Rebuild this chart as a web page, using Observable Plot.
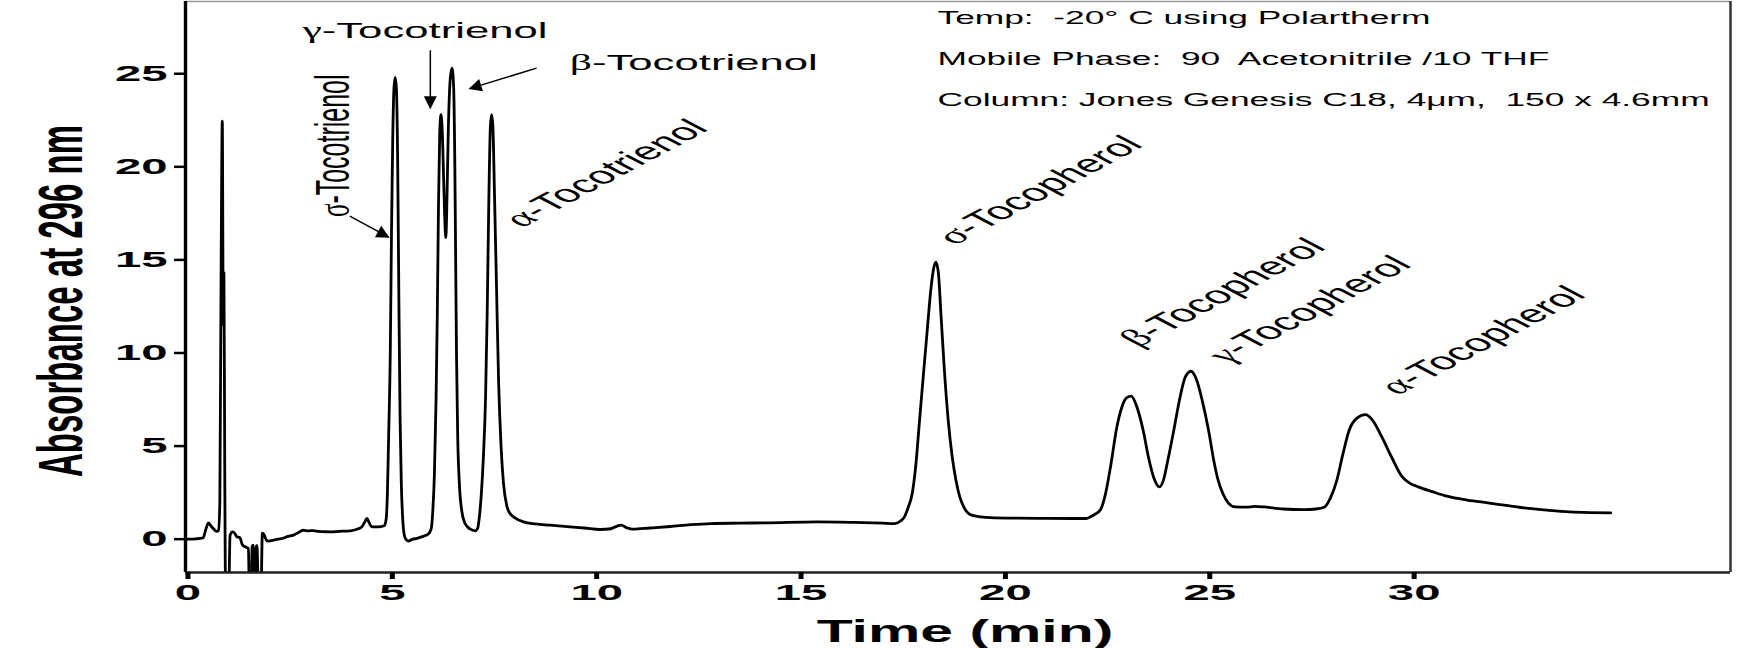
<!DOCTYPE html>
<html><head><meta charset="utf-8">
<script src="https://cdn.jsdelivr.net/npm/d3@7"></script>
<script src="https://cdn.jsdelivr.net/npm/@observablehq/plot@0.6"></script>
<style>
html,body{margin:0;padding:0;background:#fff;}
svg text{white-space:pre;}
</style></head><body><div id="chart"></div>
<script>
// ---- data ----
const time = [-0.04,0.2,0.37,0.44,0.5,0.56,0.62,0.7,0.75,0.78,0.81,0.84,0.865,0.88,0.9,0.92,1.0,1.03,1.09,1.15,1.2,1.27,1.33,1.4,1.48,1.5,1.55,1.57,1.6,1.62,1.65,1.67,1.69,1.72,1.79,1.82,1.86,1.92,1.97,2.1,2.2,2.33,2.45,2.58,2.7,2.82,2.95,3.06,3.2,3.35,3.48,3.7,3.97,4.15,4.25,4.32,4.38,4.43,4.5,4.65,4.8,4.85,4.88,4.91,4.95,4.98,5.01,5.04,5.07,5.1,5.13,5.16,5.19,5.22,5.26,5.3,5.35,5.39,5.5,5.6,5.75,5.88,5.95,5.99,6.03,6.07,6.1,6.13,6.16,6.19,6.22,6.26,6.29,6.31,6.33,6.37,6.42,6.46,6.5,6.53,6.55,6.57,6.6,6.64,6.7,6.78,6.9,7.03,7.09,7.13,7.18,7.23,7.28,7.32,7.36,7.4,7.43,7.46,7.5,7.55,7.6,7.66,7.72,7.8,7.88,8.0,8.21,8.5,8.86,9.35,9.7,10.08,10.35,10.5,10.6,10.75,10.88,11.3,11.8,12.3,12.8,13.5,14.2,15.4,16.3,17.0,17.29,17.45,17.53,17.62,17.72,17.8,17.9,18.0,18.09,18.18,18.24,18.3,18.36,18.42,18.5,18.6,18.7,18.79,18.88,18.98,19.17,19.4,19.63,20.3,21.0,21.98,22.08,22.16,22.33,22.45,22.58,22.72,22.85,22.97,23.08,23.2,23.37,23.5,23.63,23.77,23.87,23.97,24.12,24.27,24.4,24.54,24.67,24.82,24.97,25.1,25.2,25.32,25.45,25.62,25.9,26.1,26.32,26.8,27.31,27.6,27.81,27.95,28.11,28.25,28.41,28.6,28.81,28.98,29.21,29.45,29.71,29.9,30.1,30.45,30.8,31.3,31.8,32.3,32.8,33.3,33.8,34.3,34.81];
const absorbance = [0.0,0.02,0.07,0.55,0.87,0.72,0.57,0.42,0.45,2.0,14.0,22.45,11.5,14.3,4.0,-2.5,-2.5,0.2,0.39,0.3,0.12,0.09,-0.3,-0.41,-0.5,-2.5,-2.5,-0.4,-0.32,-2.5,-2.5,-0.35,-0.35,-2.5,-2.5,0.32,0.25,-0.05,-0.1,-0.05,0.0,0.05,0.15,0.22,0.35,0.48,0.45,0.46,0.42,0.4,0.39,0.42,0.45,0.55,0.65,0.9,1.11,0.9,0.66,0.66,0.72,1.1,2.5,5.5,10.0,16.5,21.5,24.2,24.8,24.2,20.5,13.0,6.5,3.0,0.9,0.15,-0.05,-0.1,0.0,0.04,0.15,0.27,0.55,1.5,3.5,7.5,12.0,18.0,21.8,22.8,22.0,19.0,16.8,16.2,17.5,22.0,24.8,25.3,24.3,20.0,15.0,10.0,5.5,3.0,1.5,0.84,0.55,0.45,0.6,1.2,2.5,4.5,7.5,12.0,18.0,22.2,22.8,22.2,18.5,13.5,8.5,5.0,3.0,1.8,1.38,1.15,0.93,0.82,0.75,0.66,0.6,0.52,0.56,0.7,0.75,0.6,0.54,0.6,0.68,0.78,0.84,0.86,0.88,0.93,0.9,0.86,0.84,1.0,1.2,1.7,2.45,3.8,6.4,9.0,11.3,13.5,14.5,14.88,14.3,12.2,9.3,6.4,4.4,3.17,2.3,1.73,1.29,1.2,1.16,1.13,1.12,1.11,1.2,1.3,1.6,2.45,4.0,5.95,7.1,7.6,7.68,7.2,5.85,4.4,3.3,2.81,3.2,4.2,5.85,7.6,8.7,9.02,8.6,7.4,5.85,4.2,3.2,2.45,1.95,1.73,1.72,1.76,1.73,1.62,1.59,1.62,1.73,2.2,3.17,4.5,5.85,6.5,6.69,6.4,5.49,4.4,3.34,3.0,2.81,2.55,2.31,2.1,1.95,1.8,1.65,1.55,1.47,1.43,1.41];

const xTicks = [0, 5, 10, 15, 20, 25, 30];
const yTicks = [0, 5, 10, 15, 20, 25];
const xDomain = [-0.06, 37.74];
const yDomain = [-1.79, 28.88];

const xTitle = "Time (min)";
const yTitle = "Absorbance at 296 nm";
const infoLines = ["Temp:  -20° C using Polartherm", "Mobile Phase:  90  Acetonitrile /10 THF", "Column: Jones Genesis C18, 4μm,  150 x 4.6mm"];

// peak labels (anchor in data units)
const flatNames = ["γ-Tocotrienol", "β-Tocotrienol"];
const flatTime = [2.80, 9.34];
const flatAbs = [27.34, 25.6];
const uprightNames = ["σ-Tocotrienol"];
const uprightTime = [3.57];
const uprightAbs = [17.3];
const slantNames = ["α-Tocotrienol", "σ-Tocopherol", "β-Tocopherol", "γ-Tocopherol", "α-Tocopherol"];
const slantTime = [7.92, 18.5, 23.0, 25.15, 29.35];
const slantAbs = [17.0, 16.06, 10.58, 9.7, 8.0];

// arrows (data units)
const arrowTime1 = [5.93, 8.53, 3.96];
const arrowAbs1 = [26.26, 25.3, 17.35];
const arrowTime2 = [5.93, 6.89, 4.91];
const arrowAbs2 = [23.15, 24.2, 16.22];

const trace = time.map((t, i) => ({t, a: absorbance[i]}));
const rows = (names, xs, ys) => names.map((n, i) => ({n, x: xs[i], y: ys[i]}));
const arrows = arrowTime1.map((t, i) => ({x1: t, y1: arrowAbs1[i], x2: arrowTime2[i], y2: arrowAbs2[i]}));

const font = "Liberation Sans, Arial, sans-serif";
const chart = Plot.plot({
  width: 1739, height: 648,
  marginLeft: 185, marginRight: 9, marginTop: 1, marginBottom: 76,
  style: {fontFamily: font, background: "#fff", color: "#000", overflow: "visible"},
  x: {domain: xDomain},
  y: {domain: yDomain},
  marks: [
    Plot.line(trace, {x: "t", y: "a", stroke: "#000", strokeWidth: 2.8, curve: "monotone-x", clip: true}),
    Plot.ruleY([yDomain[1]], {stroke: "#999", strokeWidth: 1.5}),
    Plot.ruleX([xDomain[1]], {stroke: "#333", strokeWidth: 2.5}),
    Plot.ruleY([yDomain[0]], {stroke: "#222", strokeWidth: 2.5}),
    Plot.ruleX([xDomain[0]], {stroke: "#000", strokeWidth: 3.4}),
    Plot.axisY({ticks: yTicks, tickSize: 11, tickPadding: 7, strokeWidth: 2.5, fontSize: 22, fontWeight: "bold", fontFamily: font, label: null}),
    Plot.axisX({ticks: xTicks, tickSize: 7, tickPadding: 5, strokeWidth: 5, fontSize: 22, fontWeight: "bold", fontFamily: font, label: null}),
    Plot.text([yTitle], {frameAnchor: "left", textAnchor: "middle", dx: -124, dy: 14, rotate: -90, fontSize: 33, fontWeight: "bold", fontFamily: font}),
    Plot.text([xTitle], {frameAnchor: "bottom", lineAnchor: "top", dx: 7, dy: 47, fontSize: 31, fontWeight: "bold", fontFamily: font}),
    Plot.text([infoLines.join("\n")], {frameAnchor: "top-left", textAnchor: "start", lineAnchor: "top", dx: 752, dy: -6.5, lineHeight: 2.2, fontSize: 18.6, fontFamily: font}),
    Plot.text(rows(flatNames, flatTime, flatAbs), {x: "x", y: "y", text: "n", textAnchor: "start", fontSize: 23, fontFamily: font}),
    Plot.text(rows(uprightNames, uprightTime, uprightAbs), {x: "x", y: "y", text: "n", textAnchor: "start", rotate: -90, fontSize: 25, fontFamily: font}),
    Plot.text(rows(slantNames, slantTime, slantAbs), {x: "x", y: "y", text: "n", textAnchor: "start", rotate: -45, fontSize: 24.5, fontFamily: font}),
    Plot.link(arrows, {x1: "x1", y1: "y1", x2: "x2", y2: "y2", stroke: "#000", strokeWidth: 1.5, markerEnd: "arrow"})
  ]
});

// Serif Greek initials
const NS = "http://www.w3.org/2000/svg";
chart.querySelectorAll("text").forEach(t => {
  if (t.querySelector("tspan")) return;
  const s = t.textContent;
  if (/^[αβγσ]/.test(s)) {
    t.textContent = "";
    const a = document.createElementNS(NS, "tspan");
    a.setAttribute("font-family", "Liberation Serif, Times New Roman, serif");
    a.textContent = s[0];
    const b = document.createElementNS(NS, "tspan");
    b.textContent = s.slice(1);
    t.append(a, b);
  }
});

// horizontally stretched lettering, as in the source figure
chart.querySelectorAll("g[aria-label]").forEach(g => {
  const lab = g.getAttribute("aria-label") || "";
  const S = /tick label/.test(lab) ? 2.15 : 1.9;
  g.querySelectorAll(":scope > text").forEach(t => {
    let tr = t.getAttribute("transform") || "";
    if (!tr) {
      const x = +t.getAttribute("x") || 0, y = +t.getAttribute("y") || 0;
      t.removeAttribute("x"); t.removeAttribute("y");
      tr = `translate(${x},${y})`;
    }
    tr = /rotate/.test(tr) ? tr.replace("rotate", `scale(${S},1) rotate`) : `${tr} scale(${S},1)`;
    t.setAttribute("transform", tr);
  });
});

// filled arrow heads
chart.querySelectorAll("marker").forEach(m => {
  m.setAttribute("viewBox", "-14 -7 16 14");
  m.setAttribute("markerUnits", "userSpaceOnUse");
  m.setAttribute("markerWidth", "16");
  m.setAttribute("markerHeight", "14");
  m.setAttribute("fill", "#000");
  m.setAttribute("stroke", "none");
  const p = m.querySelector("path");
  if (p) p.setAttribute("d", "M-12,-6.5L1,0L-12,6.5Z");
});

document.getElementById("chart").append(chart);
</script></body></html>
